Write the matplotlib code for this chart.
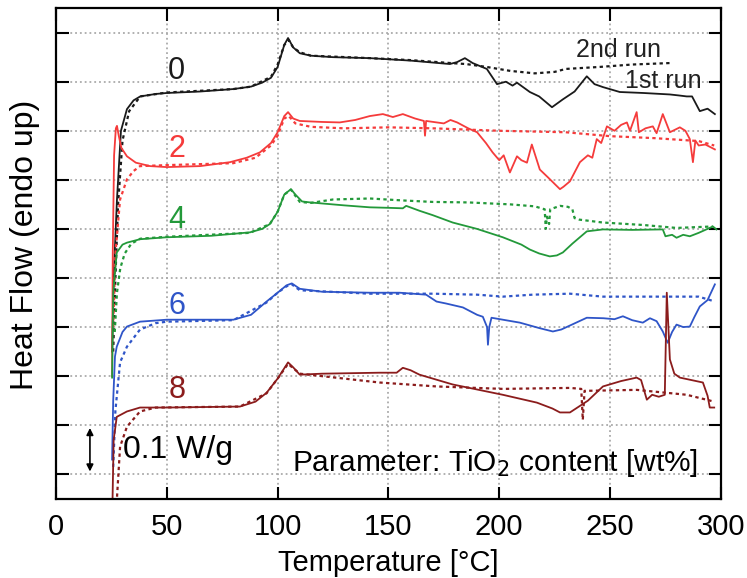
import numpy as np
import matplotlib.pyplot as plt

plt.rcParams['font.family'] = ['Liberation Sans', 'DejaVu Sans']

# TiO2 content 0 wt%
t0_1 = [25.3, 26, 27.5, 29.3, 32, 35, 38, 45, 50, 65, 80, 88, 93, 97, 100, 103, 104.7, 107, 110, 115,
        125, 141.6, 160, 177.7, 181, 184.5, 188, 194.4, 199, 203, 206, 208, 213.8, 218, 223.8, 228.7,
        234, 239.5, 243, 246.8, 254.4, 265, 277, 281, 284.6, 287, 290.5, 294, 297.3]
y0_1 = [3.0, 4.5, 6.1, 7.5, 7.94, 8.12, 8.2, 8.25, 8.27, 8.3, 8.35, 8.4, 8.48, 8.58, 8.8, 9.25, 9.39, 9.2, 9.08, 9.03,
        9.0, 8.98, 8.93, 8.86, 8.9, 8.98, 8.88, 8.76, 8.45, 8.5, 8.42, 8.48, 8.29, 8.2, 7.98, 8.14,
        8.3, 8.61, 8.45, 8.39, 8.29, 8.27, 8.24, 8.22, 8.2, 8.2, 7.9, 7.95, 7.84]
t0_2 = [25.8, 26.8, 28, 30, 33, 38, 50, 80, 88, 97, 100, 103, 105, 107, 110, 115, 141.6, 160, 178, 185,
        194.4, 205, 216, 225, 230, 245, 260, 277]
y0_2 = [3.0, 4.5, 6.0, 7.3, 7.9, 8.2, 8.28, 8.35, 8.4, 8.6, 8.85, 9.25, 9.35, 9.2, 9.1, 9.03, 8.98, 8.94, 8.88, 8.86,
        8.8, 8.72, 8.67, 8.7, 8.76, 8.8, 8.85, 8.88]

# 2 wt%
t2_1 = [25.3, 25.6, 26.2, 27.0, 27.5, 28.3, 29.5, 32, 36, 42.4, 50, 65, 78.5, 86, 92, 97, 100, 103, 104.7, 107,
        110, 120, 128, 135, 141.6, 147.5, 152, 156.5, 162, 166, 166.5, 167, 175, 178, 181, 186, 190, 194,
        197, 200, 202, 204.8, 208, 210, 212.5, 214.7, 218.3, 222, 227.4, 229, 231.9, 236.4, 240, 242,
        244, 246, 248.6, 252, 255, 257.6, 259, 262, 263, 266, 269.3, 271, 273.8, 277, 281.5, 284, 286,
        287.4, 288.5, 290, 293, 297.3]
y2_1 = [2.5, 5.0, 7.0, 7.55, 7.6, 7.4, 7.15, 6.98, 6.85, 6.78, 6.76, 6.78, 6.86, 6.95, 7.06, 7.25, 7.47, 7.8, 7.88, 7.75,
        7.7, 7.68, 7.67, 7.72, 7.8, 7.84, 7.78, 7.84, 7.75, 7.7, 7.4, 7.7, 7.65, 7.72, 7.67, 7.55, 7.47, 7.25,
        7.06, 6.9, 7.0, 6.65, 6.98, 6.9, 6.85, 7.22, 6.71, 6.55, 6.31, 6.36, 6.47, 6.86, 7.0, 6.95,
        7.33, 7.25, 7.59, 7.5, 7.62, 7.67, 7.5, 7.88, 7.47, 7.55, 7.59, 7.45, 7.84, 7.47, 7.57, 7.5, 7.33,
        6.86, 7.3, 7.2, 7.22, 7.12]
t2_2 = [25.8, 26.8, 28.9, 32, 35, 37.9, 50, 80, 90, 97, 100, 103, 105, 108, 115, 130, 150, 170, 200, 230,
        250, 270, 290, 297]
y2_2 = [3.5, 5.0, 6.1, 6.51, 6.68, 6.78, 6.8, 6.84, 6.95, 7.2, 7.4, 7.75, 7.8, 7.65, 7.58, 7.55, 7.57, 7.55, 7.5, 7.47,
        7.39, 7.35, 7.29, 7.2]

# 4 wt%
t4_1 = [25.3, 25.8, 27.4, 30, 32, 37.9, 50, 70, 87.5, 93, 96.5, 100, 103, 106, 108, 111, 114.6, 130, 141.6, 150,
        156.5, 158, 164, 170, 179, 190, 201.6, 210, 213.8, 218, 222.8, 226, 228.7, 233, 239.5, 246.8, 260,
        273.8, 275, 278, 280, 283, 286, 290, 296.4, 298]
y4_1 = [2.47, 4.2, 5.02, 5.18, 5.22, 5.29, 5.33, 5.36, 5.43, 5.5, 5.6, 5.85, 6.2, 6.31, 6.2, 6.06, 6.04, 5.98, 5.94, 5.93,
        5.92, 5.97, 5.87, 5.78, 5.63, 5.5, 5.33, 5.18, 5.08, 5.0, 4.94, 4.96, 5.02, 5.2, 5.45, 5.49, 5.48,
        5.49, 5.35, 5.38, 5.32, 5.38, 5.35, 5.42, 5.55, 5.49]
t4_2 = [26.5, 27.5, 29, 31, 34, 38, 50, 87.5, 96.5, 100, 103, 106, 110, 115, 125, 141.6, 156.5, 170, 186, 205,
        216, 220.5, 221, 221.5, 222.5, 223, 227.4, 231, 233, 234, 236, 246.8, 265, 280, 296.4]
y4_2 = [3.4, 4.2, 4.7, 5.0, 5.2, 5.3, 5.34, 5.42, 5.6, 5.85, 6.2, 6.3, 6.05, 6.03, 6.1, 6.12, 6.08, 6.05, 6.04, 6.0,
        5.96, 5.9, 5.5, 5.75, 5.6, 5.9, 5.97, 5.95, 5.9, 5.72, 5.69, 5.63, 5.58, 5.52, 5.55]

# 6 wt%
t6_1 = [25.3, 25.8, 26.6, 27.4, 30, 32, 37.9, 50, 80, 88, 95, 100, 104, 106.4, 110, 120, 141.6, 155, 167, 171.7,
        176, 183.6, 190, 192.6, 194.5, 194.9, 195.5, 196.5, 209.3, 218, 224.2, 228, 239.5, 247, 252, 255.8,
        260, 264.8, 268, 271, 273.8, 276, 278, 280, 283, 286, 288, 290.5, 294, 297.3]
y6_1 = [0.8, 2.0, 2.9, 3.1, 3.4, 3.51, 3.61, 3.65, 3.65, 3.75, 4.02, 4.2, 4.35, 4.39, 4.28, 4.22, 4.2, 4.2, 4.16, 4.02,
        3.98, 3.9, 3.75, 3.71, 3.5, 3.14, 3.5, 3.69, 3.59, 3.48, 3.41, 3.45, 3.69, 3.68, 3.66, 3.72,
        3.64, 3.59, 3.68, 3.62, 3.41, 3.18, 3.4, 3.55, 3.5, 3.51, 3.7, 3.92, 4.05, 4.37]
t6_2 = [25.8, 26.8, 28.9, 32, 37.9, 45, 50, 80, 95, 100, 104, 106.4, 110, 141.6, 170, 190, 201.6, 215, 231.9,
        246.8, 270, 290, 297.3]
y6_2 = [0.65, 1.8, 2.78, 3.1, 3.45, 3.58, 3.61, 3.64, 4.0, 4.2, 4.33, 4.37, 4.25, 4.18, 4.18, 4.16, 4.12, 4.16, 4.18,
        4.12, 4.12, 4.12, 4.02]

# 8 wt%
t8_1 = [25.3, 26, 27.4, 32, 37.9, 50, 83, 90, 95, 100, 104.7, 107, 110, 120, 146, 153.7, 156.5, 160, 164, 179,
        201.6, 217, 224, 227.4, 231.9, 240, 246.8, 255, 262, 264, 266.6, 269, 272, 274.7, 275.6, 277, 279,
        281.5, 291.9, 294, 295, 297]
y8_1 = [-0.5, 1.2, 1.67, 1.78, 1.86, 1.86, 1.88, 1.98, 2.16, 2.45, 2.78, 2.68, 2.53, 2.55, 2.57, 2.57, 2.67, 2.62, 2.53, 2.33,
        2.12, 1.96, 1.84, 1.76, 1.76, 2.0, 2.29, 2.4, 2.47, 2.42, 2.02, 2.12, 2.08, 2.12, 4.2, 2.84, 2.55,
        2.47, 2.37, 2.1, 1.86, 1.86]
t8_2 = [26.8, 28.9, 32, 37.9, 45, 83, 95, 100, 104.7, 110, 146, 171.7, 201.6, 231.9, 237, 237.7, 238.5, 262,
        284.6, 297]
y8_2 = [-0.5, 1.06, 1.47, 1.78, 1.86, 1.88, 2.15, 2.45, 2.75, 2.55, 2.37, 2.29, 2.24, 2.26, 2.24, 1.61, 2.2, 2.22,
        2.12, 1.98]

curvas = [
    ("0", "#1a1a1a", t0_1, y0_1, t0_2, y0_2, 8.71),
    ("2", "#f53b3b", t2_1, y2_1, t2_2, y2_2, 7.12),
    ("4", "#23993a", t4_1, y4_1, t4_2, y4_2, 5.69),
    ("6", "#2f55c8", t6_1, y6_1, t6_2, y6_2, 3.92),
    ("8", "#8b1c1c", t8_1, y8_1, t8_2, y8_2, 2.22),
]

fig = plt.figure(figsize=(7.47, 5.78), dpi=100)
ax = fig.add_axes([0.075, 0.137, 0.89, 0.849])

for nombre, color, ta, ya, tb, yb, ylab in curvas:
    ax.plot(tb, yb, color=color, lw=1.6, linestyle=(0, (1.5, 1.5)))
    ax.plot(ta, ya, color=color, lw=1.3)
    ax.text(54.5, ylab, nombre, color=color, fontsize=22, ha="center", va="center")

ax.set_xlim(0, 300)
ax.set_ylim(0, 10)
ax.set_xticks([0, 50, 100, 150, 200, 250, 300])
ax.set_yticks(np.arange(0.5, 10, 1))
ax.set_yticklabels([])
ax.tick_params(axis="both", direction="in", length=9, width=1.5, top=True, right=True, labelsize=21, pad=10)
ax.grid(True, color="#aaaaaa", linestyle=":", linewidth=1.3)
for s in ax.spines.values():
    s.set_linewidth(1.6)

ax.set_xlabel("Temperature [°C]", fontsize=21, labelpad=6)
ax.set_ylabel("Heat Flow (endo up)", fontsize=23)
ax.yaxis.set_label_coords(-0.024, 0.517)

ax.text(254, 9.14, "2nd run", fontsize=18, ha="center", va="center", color="#222222")
ax.text(274, 8.51, "1st run", fontsize=18, ha="center", va="center", color="#222222")
ax.annotate("", xy=(15.3, 1.5), xytext=(15.3, 0.5),
            arrowprops=dict(arrowstyle="<|-|>", color="black", lw=1.2, mutation_scale=10))
ax.text(30, 1.0, "0.1 W/g", fontsize=23, ha="left", va="center")
ax.text(106.5, 0.73, "Parameter: TiO$_2$ content [wt%]", fontsize=21.5, ha="left", va="center")

fig.savefig("out.png", dpi=100)
